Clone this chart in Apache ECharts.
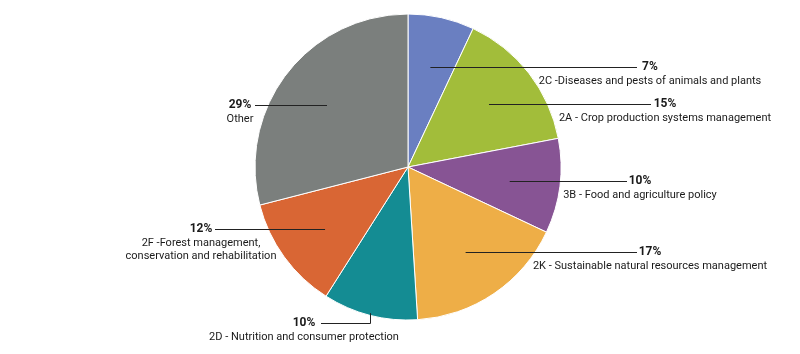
<!DOCTYPE html>
<html>
<head>
<meta charset="utf-8">
<script src="https://cdn.jsdelivr.net/npm/echarts@6/dist/echarts.min.js"></script>
<style>
html, body { margin: 0; padding: 0; background: #fff; }
#chart { width: 800px; height: 354px; }
</style>
</head>
<body>
<div id="chart"></div>
<script>
'use strict';
const categories = [
    '2C -Diseases and pests of animals and plants',
    '2A - Crop production systems management',
    '3B - Food and agriculture policy',
    '2K - Sustainable natural resources management',
    '2D - Nutrition and consumer protection',
    '2F -Forest management,\nconservation and rehabilitation',
    'Other'
];
const shares = [7, 15, 10, 17, 10, 12, 29];
const colors = ['#6a7fc1', '#a2bd3a', '#875494', '#eeae47', '#148c93', '#d96634', '#7b7f7d'];

// where each label goes: centre x of the text, y of the leader line, x where the line stops
const labelSpots = [
    { x: 650, y: 67, end: 637 },
    { x: 665, y: 104, end: 651 },
    { x: 640, y: 181, end: 627 },
    { x: 650, y: 252, end: 637 },
    { x: 304, y: 323, end: 321, fromEdge: true },
    { x: 201, y: 229, end: 215 },
    { x: 240, y: 105, end: 255 }
];

const center = [408, 167];
const radius = 153;
const total = shares.reduce((a, b) => a + b, 0);

// point on the slice's middle ray, clockwise from 12 o'clock
const midPoint = (i, k) => {
    const before = shares.slice(0, i).reduce((a, b) => a + b, 0);
    const ang = (before + shares[i] / 2) / total * Math.PI * 2;
    return [center[0] + Math.sin(ang) * radius * k, center[1] - Math.cos(ang) * radius * k];
};

const pieData = categories.map((name, i) => ({
    name: name,
    value: shares[i],
    itemStyle: { color: colors[i] }
}));

const myChart = echarts.init(document.getElementById('chart'));
myChart.setOption({
    animation: false,
    series: [{
        // the slices
        type: 'pie',
        z: 2,
        center: center,
        radius: radius,
        startAngle: 90,
        clockwise: true,
        itemStyle: { borderColor: '#fff', borderWidth: 1 },
        label: { show: false },
        labelLine: { show: false },
        data: pieData
    }, {
        // same pie, invisible, on top, only for labels + leader lines
        type: 'pie',
        z: 3,
        silent: true,
        center: center,
        radius: radius,
        startAngle: 90,
        clockwise: true,
        itemStyle: { color: 'rgba(0,0,0,0)', borderWidth: 0 },
        label: {
            show: true,
            position: 'outside',
            formatter: (p) => `{p|${p.value}%}\n{n|${p.name}}`,
            align: 'center',
            rich: {
                p: { fontFamily: 'Roboto', fontWeight: 'bold', fontSize: 12, color: '#1a1a1a', lineHeight: 14, align: 'center' },
                n: { fontFamily: 'Roboto', fontSize: 11, color: '#1a1a1a', lineHeight: 13.5, align: 'center' }
            }
        },
        labelLine: { show: true, lineStyle: { color: '#222', width: 1 } },
        labelLayout: (params) => {
            const i = params.dataIndex;
            const spot = labelSpots[i];
            const ly = spot.y + 0.5;
            let points;
            if (spot.fromEdge) {
                const edge = midPoint(i, 1);
                const ex = Math.round(edge[0]) + 0.5;
                points = [[ex, edge[1] - 2], [ex, ly], [spot.end, ly]];
            } else {
                const start = midPoint(i, 0.67);
                points = [[start[0], ly], [spot.end, ly], [spot.end, ly]];
            }
            return {
                x: spot.x,
                y: spot.y - 7,
                align: 'center',
                verticalAlign: 'top',
                labelLinePoints: points
            };
        },
        data: categories.map((name, i) => ({ name: name, value: shares[i] }))
    }]
});
</script>
</body>
</html>
